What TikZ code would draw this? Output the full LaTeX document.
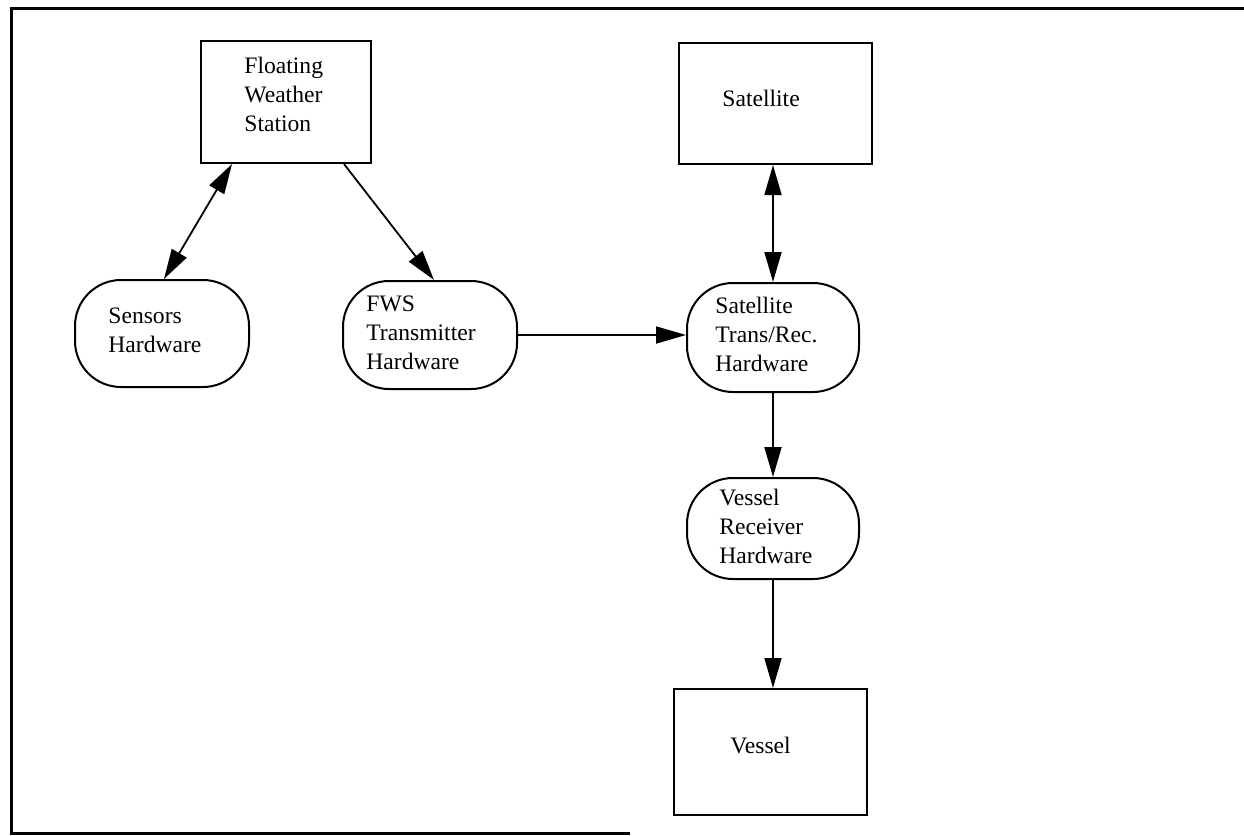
\documentclass[tikz,border=0pt]{standalone}
\usepackage{fontspec}
\setmainfont{Liberation Serif}
\usetikzlibrary{arrows.meta,calc}

\begin{document}
\begin{tikzpicture}[x=0.5pt,y=-0.5pt,
  box/.style={draw,line width=1pt,rectangle,inner sep=0pt},
  pill/.style={draw,line width=1pt,rectangle,rounded corners=23pt,inner sep=0pt},
  label/.style={anchor=north west,inner sep=0pt,align=left,
    font=\fontsize{11.8}{14.5}\selectfont},
  tip/.tip={Triangle[length=15pt,width=8.5pt]},
  link/.style={line width=0.9pt,-tip},
  link2/.style={line width=0.9pt,tip-tip}]

\useasboundingbox (0,0) rectangle (1244,836);

% page frame (left, top and bottom rules)
\draw[line width=1.5pt] (1244,8) -- (11,8) -- (11,833) -- (630,833);

% blocks
\node[box,minimum width=85pt,minimum height=61pt] (fws) at (286,102) {};
\node[label] (fwst) at (244,57) {Floating\\Weather\\Station};

\node[box,minimum width=96.5pt,minimum height=60.5pt] (sat) at (775.5,103.5) {};
\node[label] (satt) at (722,90) {Satellite};

\node[pill,minimum width=87pt,minimum height=53.5pt] (sens) at (162,333.5) {};
\node[label] (senst) at (108,307) {Sensors\\Hardware};

\node[pill,minimum width=87pt,minimum height=54pt] (tx) at (430,335) {};
\node[label] (txt) at (366,295) {FWS\\Transmitter\\Hardware};

\node[pill,minimum width=86pt,minimum height=54.5pt] (st) at (773,337.5) {};
\node[label] (stt) at (715,297) {Satellite\\Trans/Rec.\\Hardware};

\node[pill,minimum width=86pt,minimum height=50.5pt] (vr) at (773,528.5) {};
\node[label] (vrt) at (719,489) {Vessel\\Receiver\\Hardware};

\node[box,minimum width=96.5pt,minimum height=63pt] (ves) at (770.5,752) {};
\node[label] (vest) at (730,737) {Vessel};

% connectors
\draw[link2] ($(fws.south west)+(32,0)$) -- ($(sens.north west)+(90,0)$);
\draw[link] ($(fws.south west)+(144,0)$) -- ($(tx.north west)+(92,0)$);
\draw[link] (tx.east) -- (st.west |- tx.east);
\draw[link2] (sat.south -| st.north) -- (st.north);
\draw[link] (st.south) -- (vr.north);
\draw[link] (vr.south) -- (ves.north -| vr.south);

\end{tikzpicture}
\end{document}
